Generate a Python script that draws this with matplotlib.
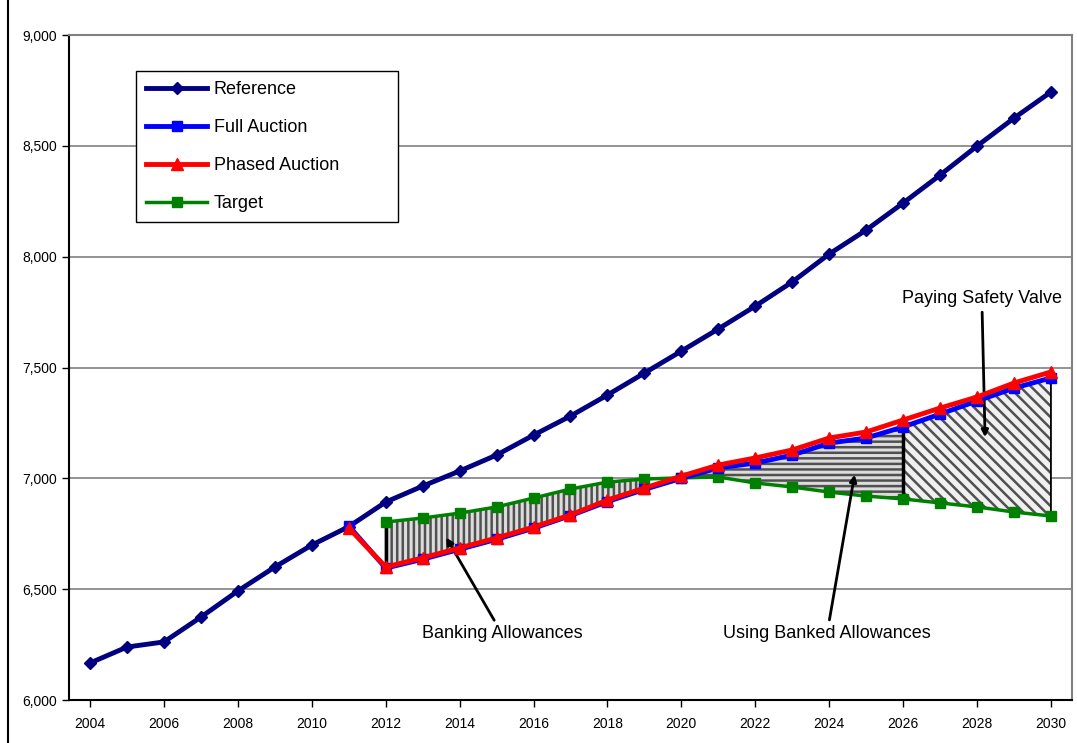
import numpy as np
import matplotlib.pyplot as plt
from matplotlib.lines import Line2D

plt.rcParams['font.family'] = ['Liberation Sans', 'DejaVu Sans']
plt.rcParams['hatch.linewidth'] = 1.8

# Данные
years_ref = np.arange(2004, 2031)
reference = [6167, 6239, 6262, 6374, 6492, 6600, 6699, 6782, 6893, 6965,
             7033, 7105, 7195, 7281, 7376, 7475, 7574, 7674, 7777, 7886,
             8012, 8120, 8242, 8368, 8499, 8625, 8743]

years_auc = np.arange(2011, 2031)
full_auction = [6785, 6595, 6635, 6680, 6725, 6775, 6832, 6895, 6950, 7000,
                7047, 7069, 7105, 7159, 7182, 7232, 7290, 7349, 7407, 7453]
phased_auction = [6776, 6600, 6641, 6686, 6731, 6780, 6835, 6902, 6956, 7010,
                  7060, 7092, 7128, 7182, 7209, 7263, 7317, 7367, 7430, 7480]

years_tgt = np.arange(2012, 2031)
target = [6803, 6821, 6843, 6871, 6911, 6952, 6983, 6997, 7002, 7006,
          6979, 6961, 6938, 6920, 6907, 6889, 6871, 6848, 6830]

fig = plt.figure(figsize=(10.77, 7.43), dpi=100)
ax = fig.add_axes([69 / 1077, 1 - 700 / 743, 1003 / 1077, 665 / 743])

# Заштрихованные области
fa = dict(zip(years_auc, full_auction))
tg = dict(zip(years_tgt, target))

yb = np.arange(2012, 2020)
ax.fill_between(yb, [fa[y] for y in yb], [tg[y] for y in yb],
                facecolor='#dcdcdc', edgecolor='#505050', hatch='|||', lw=0, zorder=1)
ax.fill_between(yb, [fa[y] for y in yb], [tg[y] for y in yb],
                facecolor='none', edgecolor='black', lw=1.3, zorder=2)

yu = np.arange(2020, 2027)
ax.fill_between(yu, [tg[y] for y in yu], [fa[y] for y in yu],
                facecolor='#dcdcdc', edgecolor='#505050', hatch='---', lw=0, zorder=1)
ax.fill_between(yu, [tg[y] for y in yu], [fa[y] for y in yu],
                facecolor='none', edgecolor='black', lw=1.3, zorder=2)

ys = np.arange(2026, 2031)
ax.fill_between(ys, [tg[y] for y in ys], [fa[y] for y in ys],
                facecolor='#f0f0f0', edgecolor='#505050', hatch='\\\\\\', lw=0, zorder=1)
ax.fill_between(ys, [tg[y] for y in ys], [fa[y] for y in ys],
                facecolor='none', edgecolor='black', lw=1.3, zorder=2)

ax.vlines([2012], fa[2012], tg[2012], colors='black', lw=2.5, zorder=2)
ax.vlines([2026], tg[2026], fa[2026], colors='black', lw=2.5, zorder=2)

# Линии
ax.plot(years_ref, reference, color='#000080', lw=3.5, marker='D', ms=6, label='Reference', zorder=3)
ax.plot(years_tgt, target, color='#008000', lw=2.5, marker='s', ms=7, label='Target', zorder=3)
ax.plot(years_auc, full_auction, color='#0000ff', lw=3.5, marker='s', ms=7, label='Full Auction', zorder=4)
ax.plot(years_auc, phased_auction, color='#ff0000', lw=3.5, marker='^', ms=8, label='Phased Auction', zorder=5)

ax.set_xlim(2003.43, 2030.57)
ax.set_ylim(6000, 9000)
ax.set_xticks(np.arange(2004, 2031, 2))
ax.set_yticks(np.arange(6000, 9001, 500))
ax.yaxis.set_major_formatter(plt.FuncFormatter(lambda v, p: f'{int(v):,}'))
ax.tick_params(axis='both', labelsize=10, direction='out', length=5, width=1, colors='black')
ax.tick_params(axis='x', pad=7)
ax.grid(axis='y', color='#808080', lw=1.2)
ax.set_axisbelow(True)
for s in ['left', 'bottom']:
    ax.spines[s].set_linewidth(1.5)
for s in ['top', 'right']:
    ax.spines[s].set_color('#808080')
    ax.spines[s].set_linewidth(1.5)

# Легенда
h, l = ax.get_legend_handles_labels()
order = [0, 2, 3, 1]
leg = ax.legend([h[i] for i in order], [l[i] for i in order],
                loc='upper left',
                bbox_to_anchor=(67 / 1003, 1 - 187 / 665, 262 / 1003, 151 / 665),
                mode='expand',
                fontsize=13, labelspacing=1.17, handlelength=3.4, handletextpad=0.35,
                borderpad=0.55, fancybox=False, edgecolor='black', framealpha=1,
                borderaxespad=0)
leg.get_frame().set_linewidth(1)

# Подписи
arrow = dict(arrowstyle='-|>', color='black', lw=2, mutation_scale=10)
ax.annotate('Banking Allowances', xy=(2013.6, 6744), xytext=(2015.15, 6298),
            ha='center', va='center', fontsize=13, arrowprops=arrow)
ax.annotate('Using Banked Allowances', xy=(2024.7, 7029), xytext=(2023.94, 6298),
            ha='center', va='center', fontsize=13, arrowprops=arrow)
ax.annotate('Paying Safety Valve', xy=(2028.22, 7173), xytext=(2028.13, 7813),
            ha='center', va='center', fontsize=13, arrowprops=arrow)

fig.add_artist(Line2D([8 / 1077, 8 / 1077], [0, 1], color='black', lw=1.5))

plt.savefig('out.png', dpi=100)
